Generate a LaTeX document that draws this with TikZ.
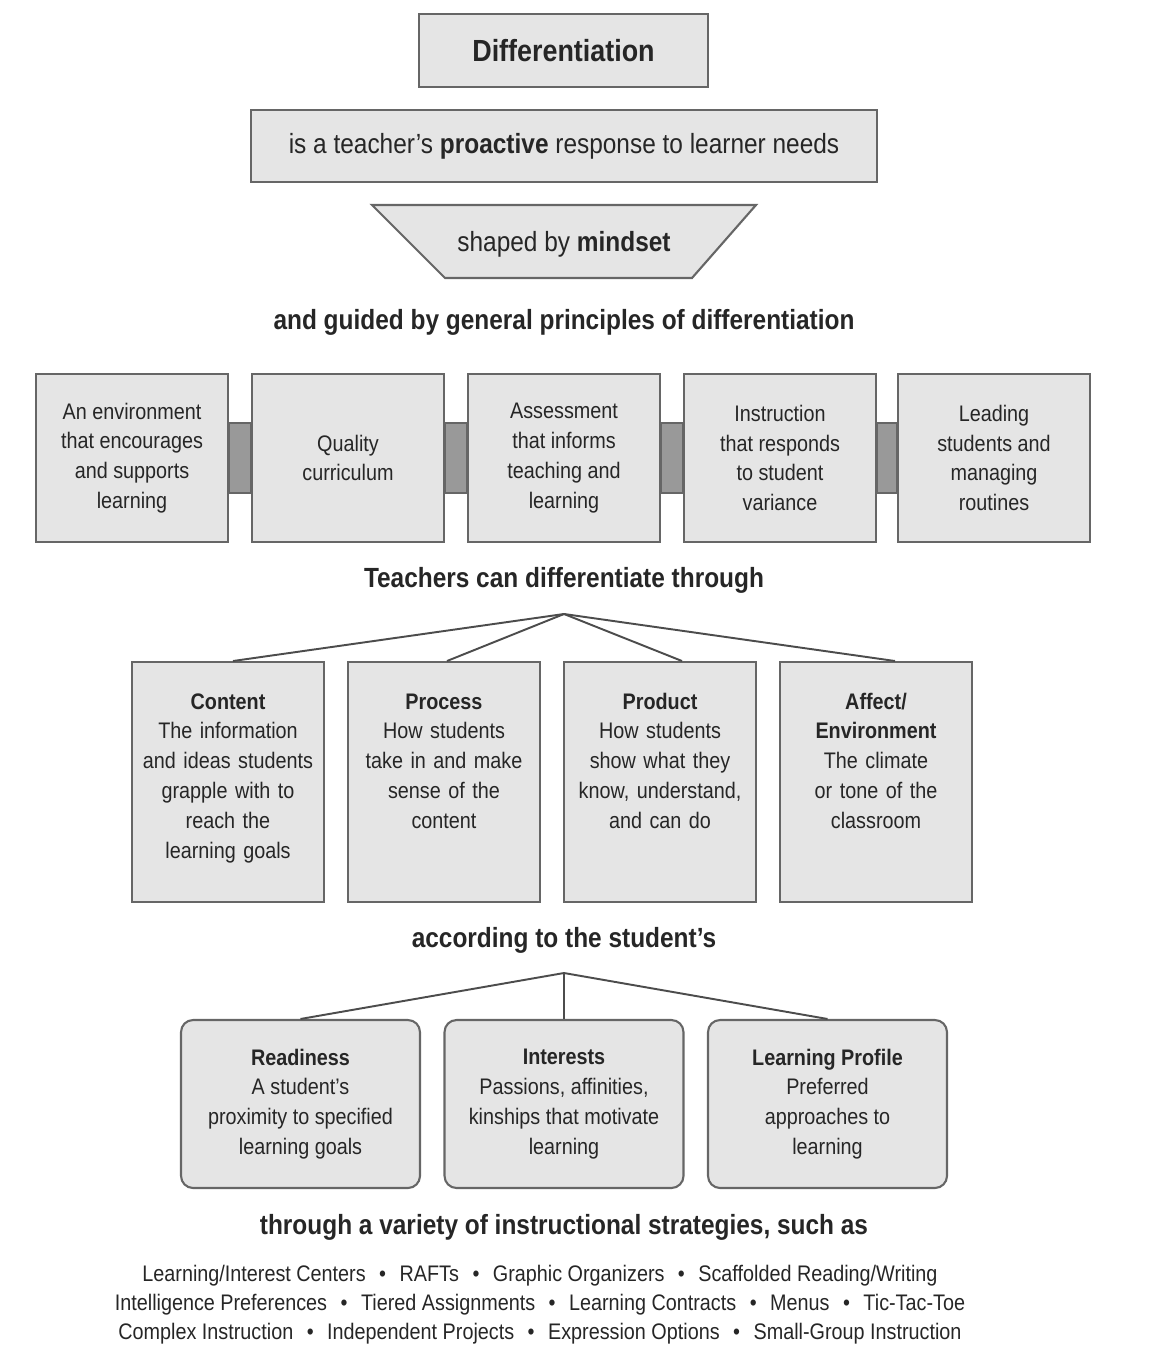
\documentclass[tikz,border=0pt]{standalone}
\usepackage{fontspec}
\setmainfont{Liberation Sans}[FakeStretch=0.88]
\newcommand{\dotsep}{\hspace{0.6em}\textbullet\hspace{0.6em}}

\begin{document}
\begin{tikzpicture}[x=0.02cm,y=-0.02cm,
	every node/.style={text=black!85},
	frame/.style={draw=black!60,fill=black!10,line width=1.2pt,inner sep=0pt,align=center,font=\fontsize{12.8}{17}\selectfont},
	topbox/.style={frame,font=\fontsize{17.4}{20}\selectfont\bfseries},
	pillar/.style={frame,minimum width=3.84cm,minimum height=3.36cm},
	waybox/.style={frame,anchor=north,text width=3.84cm,text height=0.94cm,text depth=3.86cm},
	needbox/.style={frame,rounded corners=0.24cm,minimum width=4.78cm,minimum height=3.36cm},
	linkbar/.style={draw=black!60,fill=black!40,line width=0.8pt},
	branch/.style={draw=black!70,line width=1.1pt},
	lead/.style={font=\fontsize{15.8}{17}\selectfont\bfseries},
	strat/.style={font=\fontsize{12.8}{17}\selectfont,align=center}]
	\useasboundingbox (0,0) rectangle (1157,1370);
	\node[topbox,minimum width=5.78cm,minimum height=1.46cm] (diff) at (563.5,50.5) {Differentiation};
	\node[frame,minimum width=12.52cm,minimum height=1.44cm,font=\fontsize{15.8}{17}\selectfont] (resp) at (564,146) {is a teacher’s \textbf{proactive} response to learner needs};
	\draw[frame] (372,205) -- (756,205) -- (692,278) -- (445,278) -- cycle;
	\node[font=\fontsize{15.8}{17}\selectfont] (mind) at (564,244) {shaped by \textbf{mindset}};
	\node[lead] (guide) at (564,322) {and guided by general principles of differentiation};
	\node[pillar] (p1) at (132,458) {An environment\\that encourages\\and supports\\learning};
	\node[pillar] (p2) at (348,458) {Quality\\curriculum};
	\node[pillar] (p3) at (564,458) {Assessment\\that informs\\teaching and\\learning};
	\node[pillar] (p4) at (780,458) {Instruction\\that responds\\to student\\variance};
	\node[pillar] (p5) at (994,458) {Leading\\students and\\managing\\routines};
	\draw[linkbar] ([yshift=0.7cm]p1.east) rectangle ([yshift=-0.7cm]p2.west);
	\draw[linkbar] ([yshift=0.7cm]p2.east) rectangle ([yshift=-0.7cm]p3.west);
	\draw[linkbar] ([yshift=0.7cm]p3.east) rectangle ([yshift=-0.7cm]p4.west);
	\draw[linkbar] ([yshift=0.7cm]p4.east) rectangle ([yshift=-0.7cm]p5.west);
	\node[lead] (teach) at (564,580) {Teachers can differentiate through};
	\coordinate (fork1) at (564,614);
	\node[waybox] (content) at (228,661) {\textbf{Content}\\The information\\and ideas students\\grapple with to\\reach the\\learning goals};
	\node[waybox] (process) at (444,661) {\textbf{Process}\\How students\\take in and make\\sense of the\\content};
	\node[waybox] (product) at (660,661) {\textbf{Product}\\How students\\show what they\\know, understand,\\and can do};
	\node[waybox] (affect) at (876,661) {\textbf{Affect/}\\\textbf{Environment}\\The climate\\or tone of the\\classroom};
	\draw[branch] (fork1) -- ([xshift=0.1cm]content.north);
	\draw[branch] (fork1) -- ([xshift=0.06cm]process.north);
	\draw[branch] (fork1) -- ([xshift=0.44cm]product.north);
	\draw[branch] (fork1) -- ([xshift=0.38cm]affect.north);
	\node[lead] (accord) at (564,940) {according to the student’s};
	\coordinate (fork2) at (564,973);
	\node[needbox] (ready) at (300.5,1104) {\textbf{Readiness}\\A student’s\\proximity to specified\\learning goals};
	\node[needbox] (interest) at (564,1104) {\textbf{Interests}\\Passions, affinities,\\kinships that motivate\\learning};
	\node[needbox] (profile) at (827.5,1104) {\textbf{Learning Profile}\\Preferred\\approaches to\\learning};
	\draw[branch] (fork2) -- (ready.north);
	\draw[branch] (fork2) -- (interest.north);
	\draw[branch] (fork2) -- (profile.north);
	\node[lead] (variety) at (564,1227) {through a variety of instructional strategies, such as};
	\node[strat] (s1) at (540,1276) {Learning/Interest Centers\dotsep RAFTs\dotsep Graphic Organizers\dotsep Scaffolded Reading/Writing};
	\node[strat] (s2) at (540,1305) {Intelligence Preferences\dotsep Tiered Assignments\dotsep Learning Contracts\dotsep Menus\dotsep Tic-Tac-Toe};
	\node[strat] (s3) at (540,1334) {Complex Instruction\dotsep Independent Projects\dotsep Expression Options\dotsep Small-Group Instruction};
\end{tikzpicture}
\end{document}
